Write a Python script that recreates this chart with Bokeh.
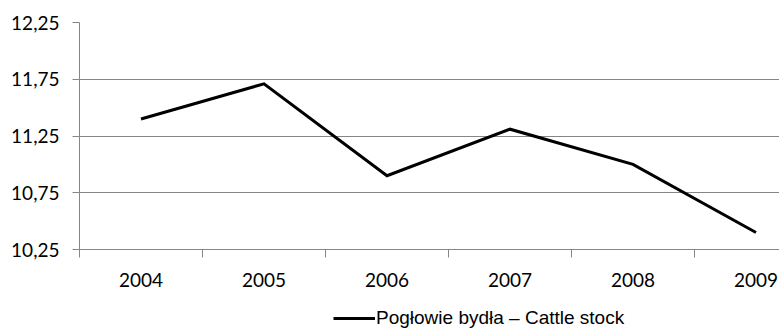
from bokeh.plotting import figure
from bokeh.layouts import column
from bokeh.models import FixedTicker, Legend, LegendItem, Range1d, ColumnDataSource
from bokeh.embed import file_html
from bokeh.resources import INLINE

years = ["2004", "2005", "2006", "2007", "2008", "2009"]
cattle = [11.40, 11.71, 10.90, 11.31, 11.00, 10.40]
y_ticks = [10.25, 10.75, 11.25, 11.75, 12.25]
legend_label = "Pogłowie bydła – Cattle stock"

xs = [i + 0.5 for i in range(len(years))]
src = ColumnDataSource(dict(x=xs, y=cattle, year=years))

p = figure(width=779, height=300, output_backend="svg", toolbar_location=None,
           x_range=Range1d(0, 700 / 123), y_range=Range1d(y_ticks[0], y_ticks[-1]),
           min_border_left=79, min_border_right=0, min_border_top=22, min_border_bottom=51)
p.outline_line_color = None
p.background_fill_color = "white"
p.border_fill_color = "white"

line_style = dict(line_color="black", line_width=3, line_join="miter")
r = p.line("x", "y", source=src, **line_style)

grid_col = "#868686"
font = "Lato"

# x axis: labels at category centres, tick marks between categories
p.xaxis.ticker = FixedTicker(ticks=xs, minor_ticks=list(range(len(years) + 1)))
p.xaxis.major_label_overrides = {x: y for x, y in zip(xs, years)}
p.xaxis.major_tick_out = 0
p.xaxis.major_tick_in = 0
p.xaxis.minor_tick_out = 8
p.xaxis.minor_tick_in = 0
p.xaxis.minor_tick_line_color = grid_col
p.xaxis.axis_line_color = grid_col
p.xaxis.major_label_text_font = font
p.xaxis.major_label_text_font_size = "19px"
p.xaxis.major_label_text_color = "black"
p.xaxis.major_label_standoff = 15
p.xgrid.grid_line_color = None

# y axis
p.yaxis.ticker = FixedTicker(ticks=y_ticks, minor_ticks=[])
p.yaxis.major_label_overrides = {v: f"{v:.2f}".replace(".", ",") for v in y_ticks}
p.yaxis.major_tick_out = 7
p.yaxis.major_tick_in = 0
p.yaxis.major_tick_line_color = grid_col
p.yaxis.axis_line_color = grid_col
p.yaxis.major_label_text_font = font
p.yaxis.major_label_text_font_size = "19px"
p.yaxis.major_label_text_color = "black"
p.yaxis.major_label_standoff = 13
p.ygrid.grid_line_color = grid_col
p.ygrid.ticker = FixedTicker(ticks=y_ticks)

# legend strip below the chart (same series, drawn outside its visible range)
p2 = figure(width=779, height=29, output_backend="svg", toolbar_location=None,
            x_range=Range1d(0, 1), y_range=Range1d(0, 1),
            x_axis_location=None, y_axis_location=None,
            min_border_left=0, min_border_right=0, min_border_top=0, min_border_bottom=0)
p2.outline_line_color = None
p2.xgrid.grid_line_color = None
p2.ygrid.grid_line_color = None
p2.background_fill_color = "white"
p2.border_fill_color = "white"
r2 = p2.line("x", "y", source=src, **line_style)

legend = Legend(items=[LegendItem(label=legend_label, renderers=[r2])],
                location=(254, 0), orientation="horizontal",
                padding=0, margin=0, border_line_color=None, background_fill_alpha=0,
                glyph_width=42, glyph_height=10, label_height=10, label_standoff=1,
                label_text_font="Liberation Sans", label_text_font_size="19px",
                label_text_color="black")
p2.add_layout(legend, "center")

open("out.html", "w").write(file_html(column(p, p2), INLINE))
